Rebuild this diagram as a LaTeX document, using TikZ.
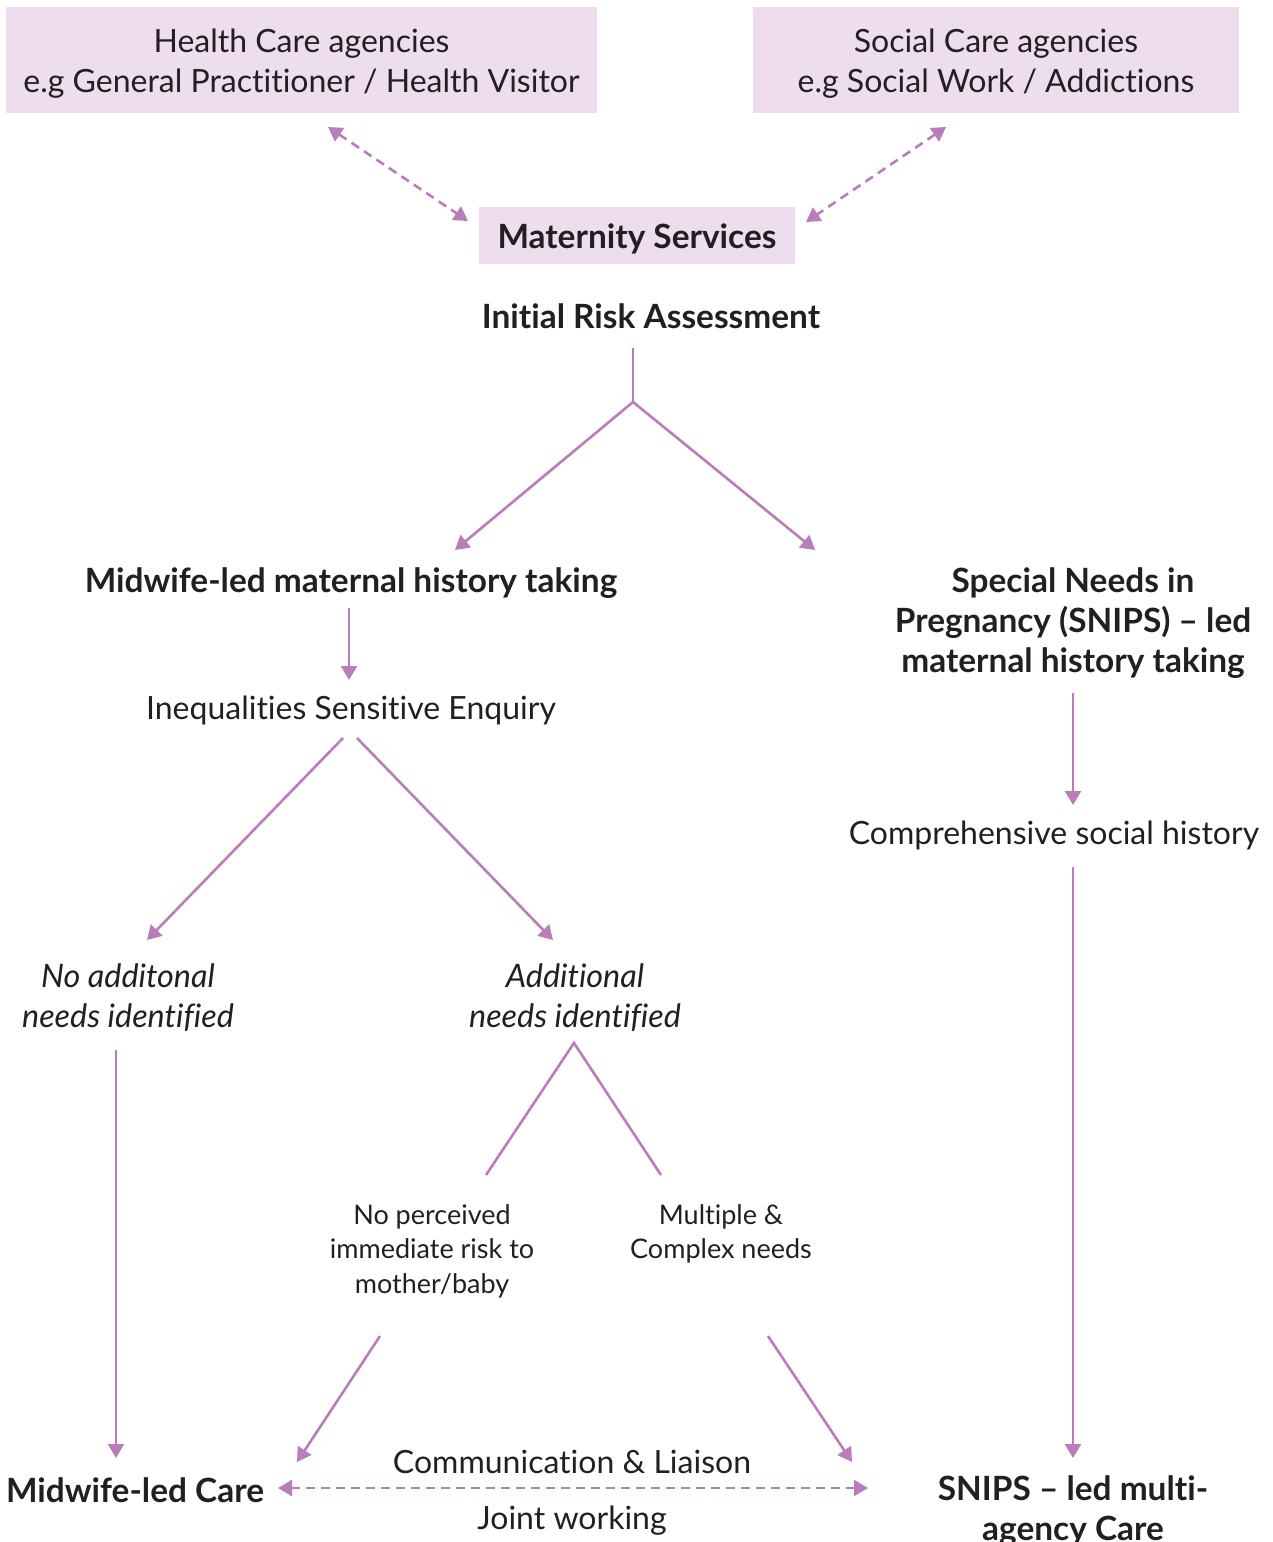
\documentclass[tikz,border=0pt]{standalone}
\usepackage{fontspec}
\setmainfont[Ligatures=NoCommon]{Lato}
\usetikzlibrary{arrows.meta}
\definecolor{lc}{HTML}{BA7DBA}
\definecolor{bx}{HTML}{EDDDED}
\definecolor{tx}{HTML}{231F20}
\begin{document}
\begin{tikzpicture}[x=1pt,y=-1pt,
  line/.style={draw=lc, line width=2.6pt},
  arr/.style={line, -{Triangle[length=14pt,width=16pt]}},
  darr/.style={line, dash pattern=on 9pt off 6pt, {Triangle[length=14pt,width=16pt]}-{Triangle[length=14pt,width=16pt]}},
  txt/.style={text=tx, align=center, inner sep=0pt, font=\fontsize{32}{40}\selectfont},
  btxt/.style={txt, font=\fontsize{33.4}{40}\selectfont\bfseries},
  itxt/.style={txt, font=\fontsize{32.3}{40}\selectfont\itshape},
  stxt/.style={txt, font=\fontsize{27}{34.5}\selectfont},
  box/.style={fill=bx, inner sep=0pt, minimum width=#1},
]
\useasboundingbox (0,0) rectangle (1273,1542);
% boxes
\node[box=591pt, minimum height=106pt] (hc) at (301.5,60) {};
\node[box=486pt, minimum height=106pt] (sc) at (996,60) {};
\node[box=316pt, minimum height=57pt] (ms) at (637,235.5) {};
\node[txt] (hct) at (301.5,64) {Health Care agencies\\e.g General Practitioner / Health Visitor};
\node[txt] (sct) at (996,64) {Social Care agencies\\e.g Social Work / Addictions};
\node[btxt] (mst) at (637,239) {Maternity Services};
% texts
\node[btxt] (ira) at (651,316) {Initial Risk Assessment};
\node[btxt] (mlh) at (351,583) {Midwife-led maternal history taking};
\node[txt] (ise) at (351,710) {Inequalities Sensitive Enquiry};
\node[itxt] (nan) at (128,998) {No additonal\\needs identified};
\node[itxt] (an) at (575,998) {Additional\\needs identified};
\node[stxt] (npr) at (432,1251) {No perceived\\immediate risk to\\mother/baby};
\node[stxt] (mcn) at (721,1234) {Multiple \&\\Complex needs};
\node[btxt] (mlc) at (135,1490) {Midwife-led Care};
\node[txt] (cl) at (572,1462) {Communication \& Liaison};
\node[txt] (jw) at (572,1521) {Joint working};
\node[btxt] (snc) at (1073,1511) {SNIPS -- led multi-\\agency Care};
\node[btxt] (snl) at (1073,623) {Special Needs in\\Pregnancy (SNIPS) -- led\\maternal history taking};
\node[txt] (csh) at (1054,835) {Comprehensive social history};
% coordinates
\coordinate (d1a) at (328,127); \coordinate (d1b) at (468,221);
\coordinate (d2a) at (946,127); \coordinate (d2b) at (806,222);
\coordinate (f0) at (633,348); \coordinate (f1) at (633,402);
\coordinate (f1l) at (455,550); \coordinate (f1r) at (815,550);
\coordinate (m0) at (349,608); \coordinate (m1) at (349,680);
\coordinate (e0l) at (343,738); \coordinate (e1l) at (147,940);
\coordinate (e0r) at (357,738); \coordinate (e1r) at (553,940);
\coordinate (n0) at (116,1050); \coordinate (n1) at (116,1458);
\coordinate (ap) at (574,1043); \coordinate (apl) at (486,1175); \coordinate (apr) at (661,1175);
\coordinate (p0) at (380,1336); \coordinate (p1) at (297,1462);
\coordinate (q0) at (768,1336); \coordinate (q1) at (852,1462);
\coordinate (jl) at (278,1488); \coordinate (jr) at (868,1488);
\coordinate (s0) at (1073,693); \coordinate (s1) at (1073,805);
\coordinate (c0) at (1073,867); \coordinate (c1) at (1073,1458);
% connectors
\draw[darr] (d1a) -- (d1b);
\draw[darr] (d2a) -- (d2b);
\draw[line] (f0) -- (f1);
\draw[arr] (f1) -- (f1l);
\draw[arr] (f1) -- (f1r);
\draw[arr] (m0) -- (m1);
\draw[arr] (e0l) -- (e1l);
\draw[arr] (e0r) -- (e1r);
\draw[arr] (n0) -- (n1);
\draw[line] (apl) -- (ap) -- (apr);
\draw[arr] (p0) -- (p1);
\draw[arr] (q0) -- (q1);
\draw[darr] (jl) -- (jr);
\draw[arr] (s0) -- (s1);
\draw[arr] (c0) -- (c1);
\end{tikzpicture}
\end{document}
